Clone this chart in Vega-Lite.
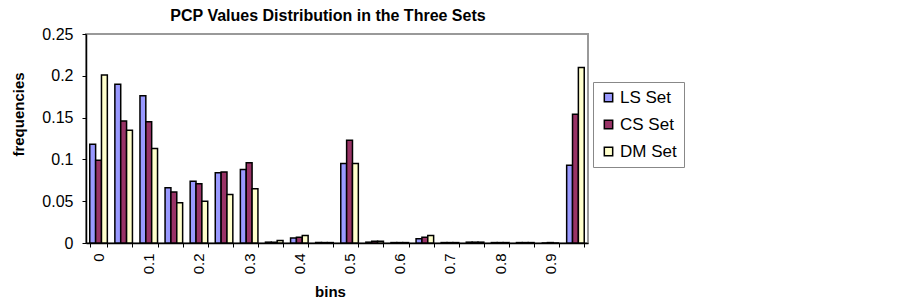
{
  "$schema": "https://vega.github.io/schema/vega-lite/v6.json",
  "width": 502,
  "height": 209,
  "autosize": "none",
  "padding": {"left": 86, "top": 34, "right": 315, "bottom": 61},
  "background": "white",
  "title": {
    "text": "PCP Values Distribution in the Three Sets",
    "font": "Liberation Sans",
    "fontSize": 16,
    "fontWeight": "bold",
    "color": "black",
    "anchor": "middle",
    "dx": -9,
    "offset": 2
  },
  "data": {
    "values": [
      {"bin": "0", "set": "LS Set", "freq": 0.118}, {"bin": "0", "set": "CS Set", "freq": 0.099}, {"bin": "0", "set": "DM Set", "freq": 0.201},
      {"bin": "0.05", "set": "LS Set", "freq": 0.190}, {"bin": "0.05", "set": "CS Set", "freq": 0.146}, {"bin": "0.05", "set": "DM Set", "freq": 0.135},
      {"bin": "0.1", "set": "LS Set", "freq": 0.176}, {"bin": "0.1", "set": "CS Set", "freq": 0.145}, {"bin": "0.1", "set": "DM Set", "freq": 0.113},
      {"bin": "0.15", "set": "LS Set", "freq": 0.066}, {"bin": "0.15", "set": "CS Set", "freq": 0.061}, {"bin": "0.15", "set": "DM Set", "freq": 0.048},
      {"bin": "0.2", "set": "LS Set", "freq": 0.074}, {"bin": "0.2", "set": "CS Set", "freq": 0.071}, {"bin": "0.2", "set": "DM Set", "freq": 0.050},
      {"bin": "0.25", "set": "LS Set", "freq": 0.084}, {"bin": "0.25", "set": "CS Set", "freq": 0.085}, {"bin": "0.25", "set": "DM Set", "freq": 0.058},
      {"bin": "0.3", "set": "LS Set", "freq": 0.088}, {"bin": "0.3", "set": "CS Set", "freq": 0.096}, {"bin": "0.3", "set": "DM Set", "freq": 0.065},
      {"bin": "0.35", "set": "LS Set", "freq": 0.001}, {"bin": "0.35", "set": "CS Set", "freq": 0.001}, {"bin": "0.35", "set": "DM Set", "freq": 0.003},
      {"bin": "0.4", "set": "LS Set", "freq": 0.006}, {"bin": "0.4", "set": "CS Set", "freq": 0.007}, {"bin": "0.4", "set": "DM Set", "freq": 0.009},
      {"bin": "0.45", "set": "LS Set", "freq": 0.0005}, {"bin": "0.45", "set": "CS Set", "freq": 0.0005}, {"bin": "0.45", "set": "DM Set", "freq": 0.0005},
      {"bin": "0.5", "set": "LS Set", "freq": 0.095}, {"bin": "0.5", "set": "CS Set", "freq": 0.123}, {"bin": "0.5", "set": "DM Set", "freq": 0.095},
      {"bin": "0.55", "set": "LS Set", "freq": 0.001}, {"bin": "0.55", "set": "CS Set", "freq": 0.002}, {"bin": "0.55", "set": "DM Set", "freq": 0.002},
      {"bin": "0.6", "set": "LS Set", "freq": 0.0005}, {"bin": "0.6", "set": "CS Set", "freq": 0.0005}, {"bin": "0.6", "set": "DM Set", "freq": 0.0005},
      {"bin": "0.65", "set": "LS Set", "freq": 0.005}, {"bin": "0.65", "set": "CS Set", "freq": 0.007}, {"bin": "0.65", "set": "DM Set", "freq": 0.009},
      {"bin": "0.7", "set": "LS Set", "freq": 0.0005}, {"bin": "0.7", "set": "CS Set", "freq": 0.0005}, {"bin": "0.7", "set": "DM Set", "freq": 0.0005},
      {"bin": "0.75", "set": "LS Set", "freq": 0.001}, {"bin": "0.75", "set": "CS Set", "freq": 0.001}, {"bin": "0.75", "set": "DM Set", "freq": 0.001},
      {"bin": "0.8", "set": "LS Set", "freq": 0.0005}, {"bin": "0.8", "set": "CS Set", "freq": 0.0005}, {"bin": "0.8", "set": "DM Set", "freq": 0.0005},
      {"bin": "0.85", "set": "LS Set", "freq": 0.0005}, {"bin": "0.85", "set": "CS Set", "freq": 0.0005}, {"bin": "0.85", "set": "DM Set", "freq": 0.0005},
      {"bin": "0.9", "set": "LS Set", "freq": 0}, {"bin": "0.9", "set": "CS Set", "freq": 0.0005}, {"bin": "0.9", "set": "DM Set", "freq": 0},
      {"bin": "0.95", "set": "LS Set", "freq": 0.093}, {"bin": "0.95", "set": "CS Set", "freq": 0.154}, {"bin": "0.95", "set": "DM Set", "freq": 0.210}
    ]
  },
  "mark": {"type": "bar", "stroke": "black", "strokeWidth": 1.5},
  "encoding": {
    "x": {
      "field": "bin",
      "type": "nominal",
      "sort": null,
      "scale": {"paddingInner": 0.3, "paddingOuter": 0.15},
      "axis": {
        "title": "bins",
        "titleFont": "Liberation Sans",
        "titleFontSize": 15,
        "titleFontWeight": "bold",
        "titleColor": "black",
        "titleX": 244,
        "titleY": 53,
        "titleBaseline": "alphabetic",
        "titleAlign": "center",
        "labelAngle": -90,
        "labelFont": "Liberation Sans",
        "labelFontSize": 15,
        "labelColor": "black",
        "labelPadding": 6,
        "labelExpr": "indexof(['0','0.1','0.2','0.3','0.4','0.5','0.6','0.7','0.8','0.9'], datum.value) >= 0 ? datum.value : ''",
        "tickBand": "extent",
        "tickSize": 4,
        "tickColor": "black",
        "domainColor": "black",
        "domainWidth": 1.5,
        "grid": false
      }
    },
    "xOffset": {"field": "set", "type": "nominal", "sort": ["LS Set", "CS Set", "DM Set"], "scale": {"paddingInner": 0, "paddingOuter": 0}},
    "y": {
      "field": "freq",
      "type": "quantitative",
      "scale": {"domain": [0, 0.25], "nice": false},
      "axis": {
        "title": "frequencies",
        "titleFont": "Liberation Sans",
        "titleFontSize": 15,
        "titleFontWeight": "bold",
        "titleColor": "black",
        "titleAngle": -90,
        "titleX": -68,
        "titleY": 80,
        "titleAlign": "center",
        "titleBaseline": "middle",
        "values": [0, 0.05, 0.1, 0.15, 0.2, 0.25],
        "format": "~g",
        "labelFont": "Liberation Sans",
        "labelFontSize": 16,
        "labelColor": "black",
        "labelPadding": 9,
        "tickSize": 4,
        "tickColor": "black",
        "domainColor": "black",
        "domainWidth": 1.5,
        "grid": false
      }
    },
    "fill": {
      "field": "set",
      "type": "nominal",
      "sort": ["LS Set", "CS Set", "DM Set"],
      "scale": {"domain": ["LS Set", "CS Set", "DM Set"], "range": ["#9999FF", "#993366", "#FFFFCC"]},
      "legend": {
        "title": null,
        "orient": "none",
        "legendX": 507,
        "legendY": 48,
        "symbolType": "square",
        "symbolSize": 70,
        "symbolStrokeColor": "black",
        "symbolStrokeWidth": 1.5,
        "labelFont": "Liberation Sans",
        "labelFontSize": 17,
        "labelColor": "black",
        "labelOffset": 3,
        "rowPadding": 9,
        "padding": 7,
        "strokeColor": "#888888",
        "fillColor": "white"
      }
    }
  },
  "config": {
    "view": {"stroke": "#999999", "strokeWidth": 2}
  }
}
